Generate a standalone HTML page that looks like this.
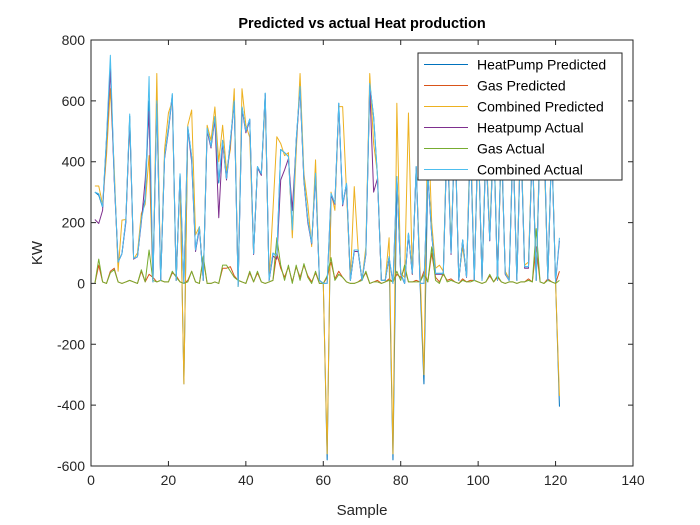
<!DOCTYPE html>
<html><head><meta charset="utf-8"><style>
body{margin:0;background:#fff;}
svg{display:block;font-family:"Liberation Sans",sans-serif;}
</style></head><body>
<svg id="chart" width="700" height="525">
<rect x="0" y="0" width="700" height="525" fill="#fff"/>
<rect x="91" y="40" width="542" height="426" fill="#fff"/>
<g id="series"></g>
<g id="axes"></g>
<text x="362" y="28" text-anchor="middle" font-size="14.5" font-weight="bold" fill="#000">Predicted vs actual Heat production</text>
<text x="362" y="515" text-anchor="middle" font-size="15" fill="#262626">Sample</text>
<text transform="translate(42,253) rotate(-90)" text-anchor="middle" font-size="15" fill="#262626">KW</text>
<g id="legend"></g>
</svg>
<script>
const xTicks=[0,20,40,60,80,100,120,140];
const yTicks=[-600,-400,-200,0,200,400,600,800];
const seriesNames=["HeatPump Predicted","Gas Predicted","Combined Predicted","Heatpump Actual","Gas Actual","Combined Actual"];
const colors=["#0072BD","#D95319","#EDB120","#7E2F8E","#77AC30","#4DBEEE"];
const hpPred=[300,290,250,470,720,350,70,98,208,550,82,88,215,280,600,5,600,10,416,510,620,10,360,-330,515,416,110,186,10,505,450,548,330,470,345,470,600,-10,580,500,540,98,384,360,625,10,100,90,440,430,417,176,470,647,340,208,132,362,10,0,-580,296,263,592,260,329,10,110,110,10,100,657,548,351,10,10,88,-580,351,33,0,165,33,384,0,-330,362,165,33,33,33,500,100,520,10,143,22,480,10,510,10,450,143,500,10,480,33,10,470,10,500,55,55,450,10,480,500,10,460,5,-405];
const gasPred=[0,60,5,0,40,50,5,0,5,10,5,0,40,5,30,20,5,10,5,5,35,25,5,0,10,40,5,0,80,0,0,5,0,50,50,55,25,10,5,0,35,5,35,5,0,5,10,100,50,20,55,5,55,20,60,25,5,35,0,0,20,70,15,40,20,5,0,0,5,15,35,0,5,10,0,5,15,5,30,20,50,5,5,10,5,40,5,100,20,5,30,10,15,5,0,15,5,10,10,5,0,5,25,5,20,5,0,5,5,0,5,5,15,5,120,5,0,15,5,0,40];
const combPred=[320,320,260,420,640,380,40,208,210,540,80,100,230,260,420,5,690,10,440,560,600,10,340,-330,520,570,160,186,10,520,470,580,400,520,370,440,640,-10,640,520,480,100,380,360,600,10,240,482,460,420,430,150,430,690,360,260,121,406,10,0,-560,300,240,581,581,300,10,318,110,10,120,690,460,360,10,10,150,-560,592,33,20,560,30,380,40,-300,560,200,50,60,40,520,120,500,20,120,30,520,15,480,15,470,160,520,20,450,40,15,480,15,520,60,70,470,15,520,460,15,470,5,-370];
const hpAct=[210,197,240,470,700,340,70,98,200,540,80,88,200,340,565,5,590,10,410,500,615,10,355,0,510,400,105,180,10,500,445,540,216,465,340,460,595,-5,575,495,535,95,380,355,620,10,90,80,340,373,410,240,460,640,335,200,130,355,10,0,0,290,260,585,255,325,10,105,105,10,95,650,300,345,10,10,85,0,345,30,0,160,30,380,0,0,355,160,30,30,30,495,95,515,10,140,20,475,10,505,10,445,140,495,10,475,30,10,465,10,495,50,50,445,10,475,495,10,455,5,140];
const gasAct=[0,80,5,0,35,45,5,0,5,10,5,0,45,5,110,10,5,10,5,5,40,20,5,0,5,40,5,0,90,0,0,5,0,60,60,40,20,10,5,0,40,5,40,5,0,5,10,150,60,10,60,0,60,10,65,20,0,40,0,0,25,85,10,30,20,5,0,0,5,10,40,0,5,5,0,5,10,5,40,10,60,5,5,5,5,30,5,120,10,0,35,5,10,5,0,10,5,5,10,5,0,5,30,5,25,5,0,5,5,0,5,5,10,5,180,5,0,10,5,0,10];
const combAct=[300,295,252,482,750,350,70,98,208,557,82,88,208,274,680,5,600,10,416,504,624,10,360,0,515,416,110,186,10,510,450,548,340,470,345,470,600,-10,580,500,540,98,384,360,625,10,100,90,440,430,417,176,470,647,340,208,132,362,10,0,0,296,263,592,260,329,10,110,110,10,100,657,548,351,10,10,88,0,351,33,0,165,33,384,0,0,362,165,33,33,33,500,100,520,10,143,22,480,10,510,10,450,143,500,10,480,33,10,470,10,500,55,55,450,10,480,500,10,460,5,150];

const X0=91,X1=633,Y0=40,Y1=466,xmin=0,xmax=140,ymin=-600,ymax=800;
function sx(v){return X0+(v-xmin)/(xmax-xmin)*(X1-X0);}
function sy(v){return Y1-(v-ymin)/(ymax-ymin)*(Y1-Y0);}
const NS="http://www.w3.org/2000/svg";
const sg=document.getElementById('series');
const allSeries=[hpPred,gasPred,combPred,hpAct,gasAct,combAct];
const sNames=["line-heatpump-predicted","line-gas-predicted","line-combined-predicted","line-heatpump-actual","line-gas-actual","line-combined-actual"];
allSeries.forEach((arr,k)=>{
  const p=document.createElementNS(NS,'polyline');
  p.setAttribute('points',arr.map((v,i)=>sx(i+1).toFixed(2)+','+sy(v).toFixed(2)).join(' '));
  p.setAttribute('fill','none');p.setAttribute('stroke',colors[k]);p.setAttribute('stroke-width','1');
  p.setAttribute('stroke-linejoin','round');
  
  
  sg.appendChild(p);
});
const ax=document.getElementById('axes');
const box=document.createElementNS(NS,'rect');
box.setAttribute('x',X0);box.setAttribute('y',Y0);box.setAttribute('width',X1-X0);box.setAttribute('height',Y1-Y0);
box.setAttribute('fill','none');box.setAttribute('stroke','#262626');box.setAttribute('stroke-width','1');


ax.appendChild(box);
xTicks.forEach(t=>{
  const x=sx(t);
  const l=document.createElementNS(NS,'path');
  l.setAttribute('d',`M${x},${Y1}V${Y1-5}M${x},${Y0}V${Y0+5}`);l.setAttribute('stroke','#262626');
  
  
  ax.appendChild(l);
  const tx=document.createElementNS(NS,'text');
  tx.setAttribute('x',x);tx.setAttribute('y',Y1+19);tx.setAttribute('text-anchor','middle');
  tx.setAttribute('font-size','14');tx.setAttribute('fill','#262626');tx.textContent=t;
  
  
  ax.appendChild(tx);
});
yTicks.forEach(t=>{
  const y=sy(t);
  const l=document.createElementNS(NS,'path');
  l.setAttribute('d',`M${X0},${y}H${X0+5}M${X1},${y}H${X1-5}`);l.setAttribute('stroke','#262626');
  
  
  ax.appendChild(l);
  const tx=document.createElementNS(NS,'text');
  tx.setAttribute('x',X0-6);tx.setAttribute('y',y+5);tx.setAttribute('text-anchor','end');
  tx.setAttribute('font-size','14');tx.setAttribute('fill','#262626');tx.textContent=t;
  
  
  ax.appendChild(tx);
});
const lg=document.getElementById('legend');
const lb=document.createElementNS(NS,'rect');
lb.setAttribute('x',418);lb.setAttribute('y',53);lb.setAttribute('width',204);lb.setAttribute('height',127);
lb.setAttribute('fill','#fff');lb.setAttribute('stroke','#262626');


lg.appendChild(lb);
seriesNames.forEach((n,k)=>{
  const y=64.5+k*21;
  const l=document.createElementNS(NS,'line');
  l.setAttribute('x1',424);l.setAttribute('x2',468);l.setAttribute('y1',y);l.setAttribute('y2',y);
  l.setAttribute('stroke',colors[k]);
  
  
  lg.appendChild(l);
  const tx=document.createElementNS(NS,'text');
  tx.setAttribute('x',477);tx.setAttribute('y',y+5);tx.setAttribute('font-size','14');tx.setAttribute('fill','#000');
  tx.textContent=n;
  
  
  lg.appendChild(tx);
});
</script>
</body></html>
